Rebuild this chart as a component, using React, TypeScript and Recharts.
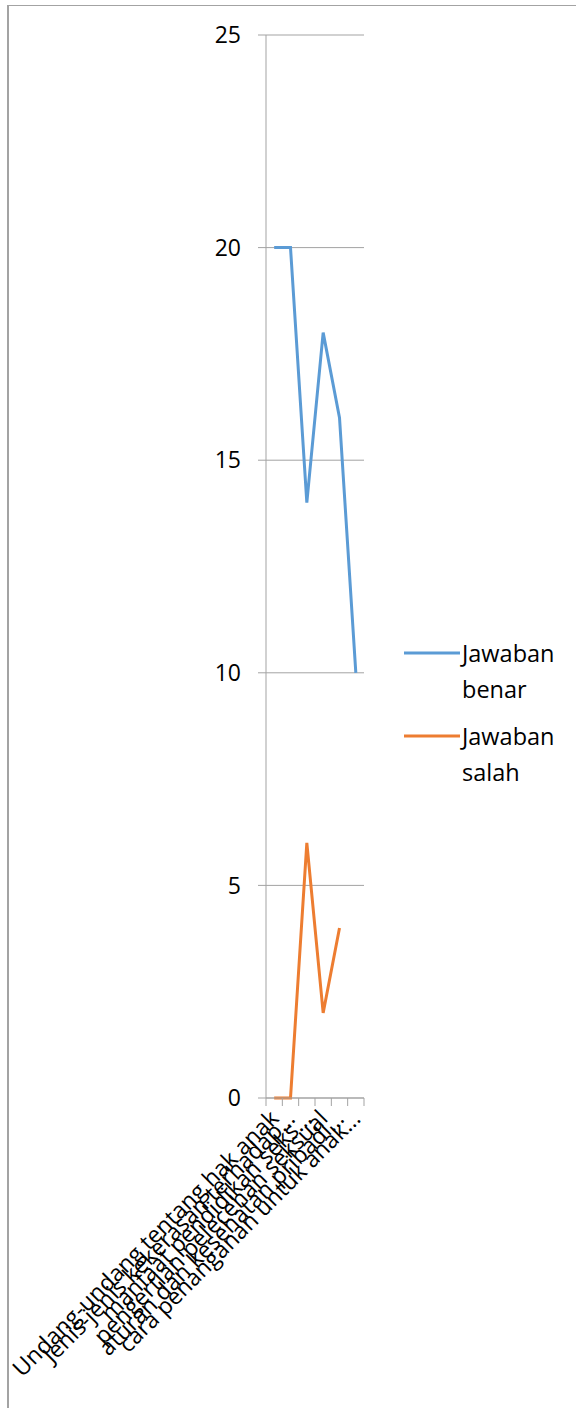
import { CartesianGrid, Line, LineChart, XAxis, YAxis } from 'recharts';

const categories = [
  'Undang-undang tentang hak anak',
  'Jenis-jenis kekerasan terhadap…',
  'manfaat pendidikan seks…',
  'pengertian pelecehan seksual',
  'aturan dan kesehatan pribadi…',
  'cara penanganan untuk anak…',
];
const benar = [20, 20, 14, 18, 16, 10];
const salah: (number | null)[] = [0, 0, 6, 2, 4, null];
const yTicks = [0, 5, 10, 15, 20, 25];

const series = [
  { key: 'benar', name: 'Jawaban benar', color: '#5B9BD5' },
  { key: 'salah', name: 'Jawaban salah', color: '#ED7D31' },
];

const data = categories.map((label, i) => ({
  label,
  benar: benar[i],
  salah: salah[i],
}));

const FONT = '"Open Sans", sans-serif';
const GRID = '#a3a3a3';
const PLOT_W = 98;
const BAND = PLOT_W / categories.length;

function CategoryTick(props: any) {
  const { x, y, payload, index } = props;
  const tx = x + 6;
  const ty = y + 22;
  return (
    <g>
      <line x1={x - BAND / 2} x2={x - BAND / 2} y1={y} y2={y + 8} stroke={GRID} />
      {index === categories.length - 1 && (
        <line x1={x + BAND / 2} x2={x + BAND / 2} y1={y} y2={y + 8} stroke={GRID} />
      )}
      <text
        x={tx}
        y={ty}
        textAnchor="end"
        fontSize={23}
        fontFamily={FONT}
        fill="#000"
        transform={`rotate(-45 ${tx} ${ty})`}
      >
        {payload.value}
      </text>
    </g>
  );
}

export default function App() {
  return (
    <div style={{ position: 'absolute', left: 0, top: 0, width: 576, height: 1408 }}>
      <div
        style={{
          position: 'absolute',
          left: 7,
          top: 5,
          width: 580,
          height: 1420,
          borderLeft: `2px solid ${GRID}`,
          borderTop: `1px solid ${GRID}`,
          boxSizing: 'border-box',
        }}
      />
      <div style={{ position: 'absolute', left: 0, top: 0 }}>
        <LineChart
          width={576}
          height={1408}
          data={data}
          margin={{ top: 35, right: 212, bottom: 10, left: 0 }}
        >
          <CartesianGrid vertical={false} stroke={GRID} />
          <XAxis
            dataKey="label"
            interval={0}
            height={300}
            padding={{ left: BAND / 2, right: BAND / 2 }}
            axisLine={{ stroke: GRID }}
            tickLine={false}
            tickSize={0}
            tickMargin={0}
            tick={<CategoryTick />}
          />
          <YAxis
            width={266}
            domain={[0, 25]}
            ticks={yTicks}
            interval={0}
            axisLine={{ stroke: GRID }}
            tickLine={{ stroke: GRID }}
            tickSize={8}
            tickMargin={17}
            tick={{ fill: '#000', fontSize: 23, fontFamily: FONT }}
          />
          {series.map((s) => (
            <Line
              key={s.key}
              type="linear"
              dataKey={s.key}
              name={s.name}
              stroke={s.color}
              strokeWidth={3}
              dot={false}
              activeDot={false}
              isAnimationActive={false}
            />
          ))}
        </LineChart>
      </div>
      {series.map((s, i) => {
        const words = s.name.split(' ');
        return (
          <div
            key={s.key}
            style={{
              position: 'absolute',
              left: 404,
              top: 635 + i * 83,
              fontFamily: FONT,
              fontSize: 23.5,
              lineHeight: '36px',
              color: '#000',
            }}
          >
            <svg width={58} height={36} style={{ position: 'absolute', left: 0, top: 0 }}>
              <line x1={0} x2={56} y1={18} y2={18} stroke={s.color} strokeWidth={3} />
            </svg>
            <div style={{ position: 'absolute', left: 58, top: 0, whiteSpace: 'nowrap' }}>
              {words[0]}
              <br />
              {words.slice(1).join(' ')}
            </div>
          </div>
        );
      })}
    </div>
  );
}
